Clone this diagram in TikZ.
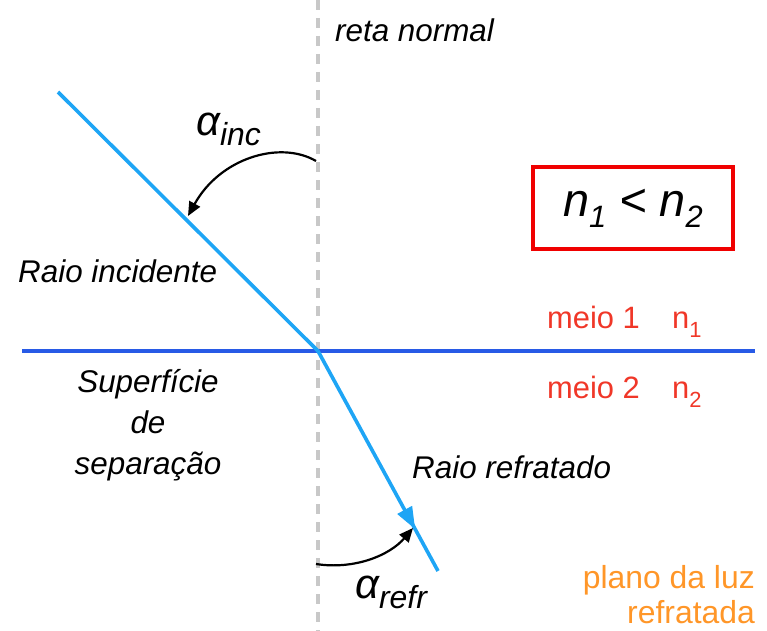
\documentclass[tikz,border=0pt]{standalone}
\usepackage{fontspec}
\setmainfont{Liberation Sans}
\usetikzlibrary{arrows.meta,decorations.markings}
\definecolor{raycol}{RGB}{30,165,245}
\definecolor{surfcol}{RGB}{40,90,230}
\definecolor{medcol}{RGB}{240,55,40}
\definecolor{boxcol}{RGB}{240,0,0}
\definecolor{orcol}{RGB}{255,150,40}
\definecolor{dashcol}{RGB}{200,200,200}
\tikzset{
  lbl/.style={font=\fontsize{31.5}{41}\selectfont\itshape, inner sep=0pt},
  medlbl/.style={font=\fontsize{31}{31}\selectfont, text=medcol, inner sep=0pt, anchor=base west},
  orlbl/.style={font=\fontsize{32}{35}\selectfont, text=orcol, inner sep=0pt, align=right},
  angarrow/.style={black, line width=2.2bp, -{Triangle[length=14bp,width=12bp]}},
  ray/.style={raycol, line width=3.6bp},
  alpha/.style={font=\fontsize{42}{42}\selectfont\itshape, inner sep=0pt, anchor=base west}
}
\newcommand{\lowsub}[3]{\raisebox{-#1}{\fontsize{#2}{#2}\selectfont #3}}
\begin{document}
\begin{tikzpicture}[x=1bp,y=-1bp]
\useasboundingbox (0,0) rectangle (767,631);
% normal
\coordinate (Ntop) at (318,0);
\coordinate (Nbot) at (318,631);
\draw[dashcol, line width=3.6bp, dash pattern=on 10bp off 8bp] (Ntop) -- (Nbot);
% surface
\coordinate (SL) at (22,351);
\coordinate (SR) at (755,351);
\draw[surfcol, line width=3.6bp] (SL) -- (SR);
% rays
\coordinate (A) at (58,92);
\coordinate (O) at (318,351);
\coordinate (B) at (438,571);
\draw[ray] (A) -- (O);
\draw[ray, postaction={decorate}, decoration={markings, mark=at position 0.81 with {\arrow{Triangle[length=22bp,width=16bp]}}}] (O) -- (B);
% angle arrows
\coordinate (i1) at (316,161);
\coordinate (i2) at (188,216);
\draw[angarrow] (i1) .. controls (280,140) and (220,158) .. (i2);
\coordinate (r1) at (316,564);
\coordinate (r2) at (413,528);
\draw[angarrow] (r1) .. controls (355,570) and (390,555) .. (r2);
% alpha labels
\node[alpha] (ainc) at (196,136) {α\lowsub{10bp}{32}{inc}};
\node[alpha] (arefr) at (355,598) {α\lowsub{10bp}{32}{refr}};
% texts
\node[lbl, anchor=base west] (reta) at (335,42) {reta normal};
\node[lbl, anchor=base west] (inc) at (18,282) {Raio incidente};
\node[lbl, align=center, anchor=base] (sup) at (148,474) {Superfície\\de\\separação};
\node[lbl, anchor=base west] (refr) at (412,478) {Raio refratado};
% box
\node[draw=boxcol, line width=4bp, minimum width=200bp, minimum height=82bp, inner sep=0pt] (box) at (633,208) {};
\node[font=\fontsize{47}{47}\selectfont\itshape, inner sep=0pt] (ineq) at (box.center) {n\lowsub{11bp}{31}{1} < n\lowsub{11bp}{31}{2}};
% media
\node[medlbl] (m1) at (547,328) {meio 1};
\node[medlbl] (n1) at (672,328) {n\lowsub{9bp}{22}{1}};
\node[medlbl] (m2) at (547,398) {meio 2};
\node[medlbl] (n2) at (672,398) {n\lowsub{9bp}{22}{2}};
% orange
\node[orlbl, anchor=base east] (plano) at (755,623) {plano da luz\\refratada};
\end{tikzpicture}
\end{document}
